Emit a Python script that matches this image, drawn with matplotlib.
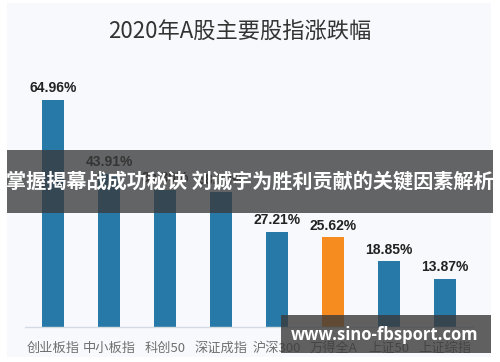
import matplotlib.pyplot as plt
from matplotlib.patches import Rectangle

plt.rcParams['font.family'] = ['Noto Sans CJK SC', 'DejaVu Sans']

# --- DATA ---
indices = ['创业板指', '中小板指', '科创50', '深证成指', '沪深300', '万得全A', '上证50', '上证综指']
changes = [64.96, 43.91, 39.30, 38.73, 27.21, 25.62, 18.85, 13.87]
highlight = '万得全A'

title = '2020年A股主要股指涨跌幅'
banner_text = '掌握揭幕战成功秘诀 刘诚宇为胜利贡献的关键因素解析'
watermark = 'www.sino-fbsport.com'

BLUE = '#2779a7'
ORANGE = '#f68b1f'
PANEL = '#f7f9fc'

W, H = 500, 362
fig = plt.figure(figsize=(5, 3.62), dpi=100, facecolor='white')

# light panel behind the chart
fig.patches.append(Rectangle((7 / W, 1 - 357 / H), 484 / W, 354 / H,
                             transform=fig.transFigure, facecolor=PANEL,
                             edgecolor='none', zorder=-5))

# axes: x from 25 to 473 px, baseline at y=327 px, top at 80 px
ax = fig.add_axes([25 / W, 1 - 327 / H, 448 / W, 247 / H])
ax.set_facecolor('none')
ax.set_zorder(1)
scale = 227 / 64.96  # px per unit
ax.set_ylim(0, 247 / scale)
ax.set_xlim(-0.5, len(indices) - 0.5)

colors = [ORANGE if n == highlight else BLUE for n in indices]
bars = ax.bar(range(len(indices)), changes, width=0.41, color=colors, zorder=2)

for bar, v in zip(bars, changes):
    ax.text(bar.get_x() + bar.get_width() / 2, v + 1.3, f'{v:.2f}%',
            ha='center', va='bottom', fontsize=10, fontweight='bold',
            color='#222222', family=['Liberation Sans', 'DejaVu Sans'])

ax.set_xticks(range(len(indices)))
ax.set_xticklabels(indices, fontsize=9.5, color='#707070')
ax.tick_params(axis='x', length=0, pad=11)
ax.set_yticks([])
for s in ['top', 'right', 'left']:
    ax.spines[s].set_visible(False)
ax.spines['bottom'].set_color('#d5dbe3')
ax.spines['bottom'].set_linewidth(1)

fig.text(240 / W, 1 - 32 / H, title, ha='center', va='center',
         fontsize=16, color='#333333')

# overlay banner across the middle
fig.patches.append(Rectangle((7 / W, 1 - 213 / H), 486 / W, 63 / H,
                             transform=fig.transFigure, facecolor='#3a3a3a',
                             alpha=0.78, edgecolor='none', zorder=5))
fig.text(250 / W, 1 - 182 / H, banner_text, ha='center', va='center',
         fontsize=14.5, fontweight='bold', color='white', zorder=6)

# watermark box
fig.patches.append(Rectangle((281 / W, 1 - 353 / H), 210 / W, 38 / H,
                             transform=fig.transFigure, facecolor='#3a3a3a',
                             alpha=0.8, edgecolor='none', zorder=5))
fig.text(385 / W, 1 - 335 / H, watermark, ha='center', va='center',
         fontsize=12, fontweight='bold', color='white', zorder=6,
         family=['Open Sans', 'DejaVu Sans'])

fig.savefig('out.png', dpi=100, facecolor='white')
